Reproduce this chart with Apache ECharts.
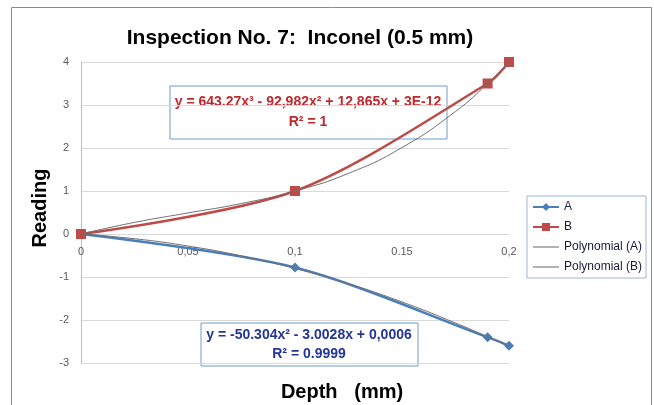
<!DOCTYPE html>
<html>
<head>
<meta charset="utf-8">
<script src="https://cdn.jsdelivr.net/npm/echarts@6/dist/echarts.min.js"></script>
<style>
  html, body { margin: 0; padding: 0; background: #fff; }
  #chart { width: 654px; height: 405px; }
</style>
</head>
<body>
<div id="chart"></div>
<script>
// readings
var depthA = [0, 0.1, 0.19, 0.2];
var readingA = [0, -0.78, -2.4, -2.6];
var depthB = [0, 0.1, 0.19, 0.2];
var readingB = [0, 1, 3.5, 4];

// trendlines
var trendDepth = [0, 0.025, 0.05, 0.075, 0.1, 0.125, 0.15, 0.175, 0.19, 0.2];
var trendA = [0, -0.11, -0.28, -0.51, -0.80, -1.16, -1.58, -2.07, -2.39, -2.61];
var trendB = [0, 0.27, 0.49, 0.71, 1.0, 1.41, 2.01, 2.85, 3.5, 4.0];

var xTickLabels = ['0', '0,05', '0,1', '0.15', '0,2'];

function pairs(xs, ys) {
    var out = [];
    for (var i = 0; i < xs.length; i++) out.push([xs[i], ys[i]]);
    return out;
}

var font = '"Liberation Sans", Arial, sans-serif';
var thinLine = 'path://M0,0 L26,0 L26,1.2 L0,1.2 Z';

var myChart = echarts.init(document.getElementById('chart'));
var option = {
    backgroundColor: '#fff',
    animation: false,
    title: {
        text: 'Inspection No. 7:  Inconel (0.5 mm)',
        left: 295,
        top: 23,
        textAlign: 'center',
        textStyle: { fontFamily: font, fontSize: 21, fontWeight: 'bold', color: '#000' }
    },
    grid: { left: 81, right: 145, top: 62, bottom: 42 },
    legend: {
        orient: 'vertical',
        left: 527,
        top: 196,
        padding: [5, 4, 5, 5],
        itemWidth: 26,
        itemHeight: 10,
        itemGap: 8,
        borderColor: '#9bb7d9',
        borderWidth: 1,
        textStyle: { fontFamily: font, fontSize: 12, color: '#1a1a3a' },
        data: [
            'A',
            'B',
            { name: 'Polynomial (A)', icon: thinLine },
            { name: 'Polynomial (B)', icon: thinLine }
        ]
    },
    xAxis: {
        type: 'value',
        min: 0,
        max: 0.2,
        interval: 0.05,
        offset: -129,
        axisLine: { onZero: false, lineStyle: { color: '#d9d9d9' } },
        axisTick: { show: false },
        splitLine: { show: false },
        axisLabel: {
            margin: 12,
            fontFamily: font,
            fontSize: 11,
            color: '#595959',
            formatter: function (value, index) {
                return xTickLabels[Math.round(value / 0.05)];
            }
        }
    },
    yAxis: {
        type: 'value',
        min: -3,
        max: 4,
        interval: 1,
        axisLine: { show: true, lineStyle: { color: '#bfbfbf' } },
        axisTick: { show: false },
        splitLine: { show: true, lineStyle: { color: '#d9d9d9' } },
        axisLabel: { margin: 12, fontFamily: font, fontSize: 11, color: '#595959' }
    },
    series: [
        {
            name: 'A',
            type: 'line',
            data: pairs(depthA, readingA),
            smooth: 0.3,
            symbol: 'diamond',
            symbolSize: 10,
            itemStyle: { color: '#4a7ebb' },
            lineStyle: { color: '#4a7ebb', width: 2.5 },
            z: 3
        },
        {
            name: 'B',
            type: 'line',
            data: pairs(depthB, readingB),
            smooth: 0.3,
            symbol: 'rect',
            symbolSize: 10,
            itemStyle: { color: '#be4b48' },
            lineStyle: { color: '#be4b48', width: 2.5 },
            z: 3
        },
        {
            name: 'Polynomial (A)',
            type: 'line',
            data: pairs(trendDepth, trendA),
            smooth: true,
            symbol: 'none',
            itemStyle: { color: '#7f7f7f' },
            lineStyle: { color: '#6f6f6f', width: 1 },
            z: 4
        },
        {
            name: 'Polynomial (B)',
            type: 'line',
            data: pairs(trendDepth, trendB),
            smooth: true,
            symbol: 'none',
            itemStyle: { color: '#7f7f7f' },
            lineStyle: { color: '#6f6f6f', width: 1 },
            z: 4
        }
    ],
    graphic: [
        // outer chart frame
        {
            type: 'rect', x: 11.5, y: 7.5, z: -1,
            shape: { width: 640, height: 420 },
            style: { fill: null, stroke: '#8c8c8c', lineWidth: 1 }
        },
        {
            type: 'text', x: 40, y: 208, rotation: Math.PI / 2,
            style: { text: 'Reading', font: 'bold 20px ' + font, fill: '#000', textAlign: 'center', textVerticalAlign: 'middle' }
        },
        {
            type: 'text', x: 342, y: 392,
            style: { text: 'Depth   (mm)', font: 'bold 20px ' + font, fill: '#000', textAlign: 'center', textVerticalAlign: 'middle' }
        },
        // equation box B
        {
            type: 'group', x: 170, y: 86, z: 10,
            children: [
                { type: 'rect', shape: { width: 277, height: 53 }, style: { fill: '#fff', stroke: '#6d9bd0', lineWidth: 1 } },
                { type: 'text', x: 138, y: 16, style: { text: 'y = 643.27x³ - 92,982x² + 12,865x + 3E-12', font: 'bold 14px ' + font, fill: '#c0282d', textAlign: 'center', textVerticalAlign: 'middle' } },
                { type: 'text', x: 138, y: 36, style: { text: 'R² = 1', font: 'bold 14px ' + font, fill: '#c0282d', textAlign: 'center', textVerticalAlign: 'middle' } }
            ]
        },
        // equation box A
        {
            type: 'group', x: 201, y: 323, z: 10,
            children: [
                { type: 'rect', shape: { width: 217, height: 43 }, style: { fill: '#fff', stroke: '#6d9bd0', lineWidth: 1 } },
                { type: 'text', x: 108, y: 12, style: { text: 'y = -50.304x² - 3.0028x + 0,0006', font: 'bold 14px ' + font, fill: '#23359a', textAlign: 'center', textVerticalAlign: 'middle' } },
                { type: 'text', x: 108, y: 31, style: { text: 'R² = 0.9999', font: 'bold 14px ' + font, fill: '#23359a', textAlign: 'center', textVerticalAlign: 'middle' } }
            ]
        }
    ]
};
myChart.setOption(option);
</script>
</body>
</html>
